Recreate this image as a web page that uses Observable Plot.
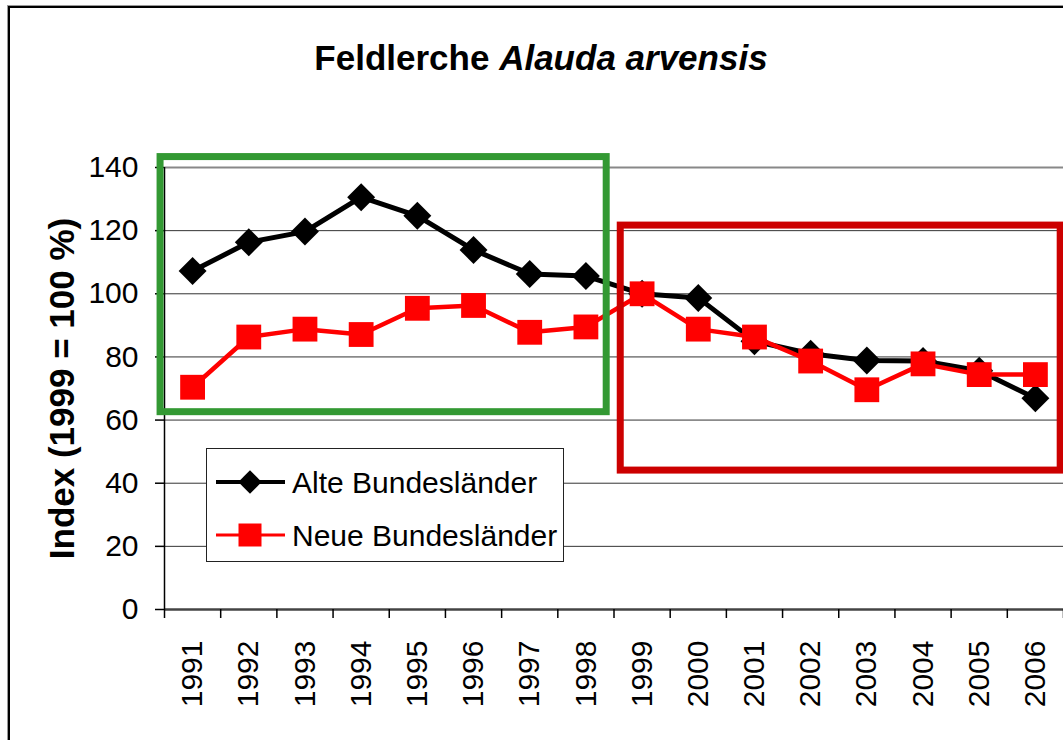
<!DOCTYPE html>
<html>
<head>
<meta charset="utf-8">
<script src="https://cdn.jsdelivr.net/npm/d3@7"></script>
<script src="https://cdn.jsdelivr.net/npm/@observablehq/plot@0.6"></script>
<style>
  html, body { margin: 0; padding: 0; background: #fff; }
  body { width: 1063px; height: 740px; overflow: hidden; position: relative; font-family: "Liberation Sans", Arial, sans-serif; }
  #frame { position: absolute; left: 8px; top: 6px; width: 1200px; height: 900px; border-left: 2px solid #000; border-top: 2px solid #000; box-shadow: -1px -1px 0 #999; }
  #chart { position: absolute; left: 0; top: 0; }
  #title { position: absolute; left: 0; top: 40px; width: 1082px; text-align: center; font-size: 35px; font-weight: bold; line-height: 35px; color: #000; white-space: nowrap; }
  #legend { position: absolute; left: 206px; top: 448px; }
</style>
</head>
<body>
<div id="frame"></div>
<div id="chart"></div>
<div id="title">Feldlerche <i>Alauda arvensis</i></div>
<div id="legend"></div>
<script>
// ---- data ----
const years = [1991, 1992, 1993, 1994, 1995, 1996, 1997, 1998, 1999, 2000, 2001, 2002, 2003, 2004, 2005, 2006];
const alteBundeslaender = [107.2, 116.3, 119.7, 130.6, 124.7, 113.9, 106.3, 105.6, 100, 98.7, 85.0, 81.0, 78.9, 78.7, 75.6, 66.9];
const neueBundeslaender = [70.4, 86.3, 88.8, 87.1, 95.4, 96.3, 87.8, 89.5, 100, 88.8, 86.3, 78.7, 69.6, 77.8, 74.4, 74.4];
const yTicks = [0, 20, 40, 60, 80, 100, 120, 140];
const seriesNames = ["Alte Bundesländer", "Neue Bundesländer"];
const yLabel = "Index (1999 = 100 %)";
// highlight boxes in data units (year, index)
const boxYearStart = [1990.43, 1998.62];
const boxYearEnd = [1998.37, 2006.45];
const boxIndexLow = [62.5, 44.0];
const boxIndexHigh = [143.3, 121.6];
const boxColors = ["#339933", "#cc0000"];

// ---- tables ----
const alte = years.map((y, i) => ({year: y, value: alteBundeslaender[i]}));
const neue = years.map((y, i) => ({year: y, value: neueBundeslaender[i]}));
const boundaries = [years[0] - 0.5, ...years.map(y => y + 0.5)];
const boxes = boxColors.map((c, i) => ({x1: boxYearStart[i], x2: boxYearEnd[i], y1: boxIndexLow[i], y2: boxIndexHigh[i], color: c}));

const chart = Plot.plot({
  width: 1063,
  height: 740,
  marginLeft: 164,
  marginRight: 0,
  marginTop: 167,
  marginBottom: 131,
  x: {type: "linear", domain: [years[0] - 0.5, years[years.length - 1] + 0.5]},
  y: {domain: [0, 140]},
  style: {fontFamily: "'Liberation Sans', Arial, sans-serif", fontSize: "30px", color: "#000", background: "transparent", overflow: "visible"},
  marks: [
    Plot.ruleY(yTicks.filter(d => d > 0 && d < 140), {stroke: "#333", strokeWidth: 1}),
    Plot.ruleY([140], {stroke: "#888", strokeWidth: 2}),
    Plot.ruleY([0], {stroke: "#444", strokeWidth: 2.5}),
    Plot.ruleX([years[0] - 0.5], {y1: 0, y2: 140, stroke: "#000", strokeWidth: 1.5}),
    Plot.axisY({ticks: yTicks, tickSize: 9, tickPadding: 17, tickFormat: d => String(d), label: null, strokeWidth: 1.5}),
    Plot.axisX({ticks: boundaries, tickSize: 9, tickFormat: () => "", label: null, strokeWidth: 1.5}),
    Plot.axisX({ticks: years, tickSize: 0, tickRotate: -90, tickPadding: 31, tickFormat: d => String(d), label: null}),
    Plot.line(alte, {x: "year", y: "value", stroke: "#000", strokeWidth: 5}),
    Plot.dot(alte, {x: "year", y: "value", symbol: "diamond2", r: 12.6, fill: "#000", stroke: "none"}),
    Plot.line(neue, {x: "year", y: "value", stroke: "#ff0000", strokeWidth: 4.5}),
    Plot.dot(neue, {x: "year", y: "value", symbol: "square", r: 14, fill: "#ff0000", stroke: "none"}),
    Plot.rect(boxes, {x1: "x1", x2: "x2", y1: "y1", y2: "y2", stroke: "color", fill: "none", strokeWidth: 7}),
    Plot.text([yLabel], {frameAnchor: "left", textAnchor: "middle", lineAnchor: "middle", dx: -102, rotate: -90, fontWeight: "bold", fontSize: 35, fill: "#000"})
  ]
});
document.getElementById("chart").appendChild(chart);

// ---- legend ----
const lw = 358, lh = 114;
const lg = d3.select("#legend").append("svg").attr("width", lw).attr("height", lh)
  .style("font-family", "'Liberation Sans', Arial, sans-serif");
lg.append("rect").attr("x", 0.5).attr("y", 0.5).attr("width", lw - 1).attr("height", lh - 1)
  .attr("fill", "#fff").attr("stroke", "#222").attr("stroke-width", 1);
const rows = [
  {name: seriesNames[0], color: "#000", sym: d3.symbolDiamond2, size: 12.6 * 12.6 * Math.PI * 0.7, cy: 34, sw: 4},
  {name: seriesNames[1], color: "#ff0000", sym: d3.symbolSquare, size: 23 * 23, cy: 87, sw: 3}
];
rows.forEach(r => {
  lg.append("line").attr("x1", 10).attr("x2", 79).attr("y1", r.cy).attr("y2", r.cy)
    .attr("stroke", r.color).attr("stroke-width", r.sw);
  lg.append("path").attr("d", d3.symbol(r.sym, r.size)()).attr("transform", `translate(44,${r.cy})`).attr("fill", r.color);
  lg.append("text").attr("x", 86).attr("y", r.cy).attr("dy", "0.35em").attr("font-size", 30).attr("fill", "#000").text(r.name);
});
</script>
</body>
</html>
